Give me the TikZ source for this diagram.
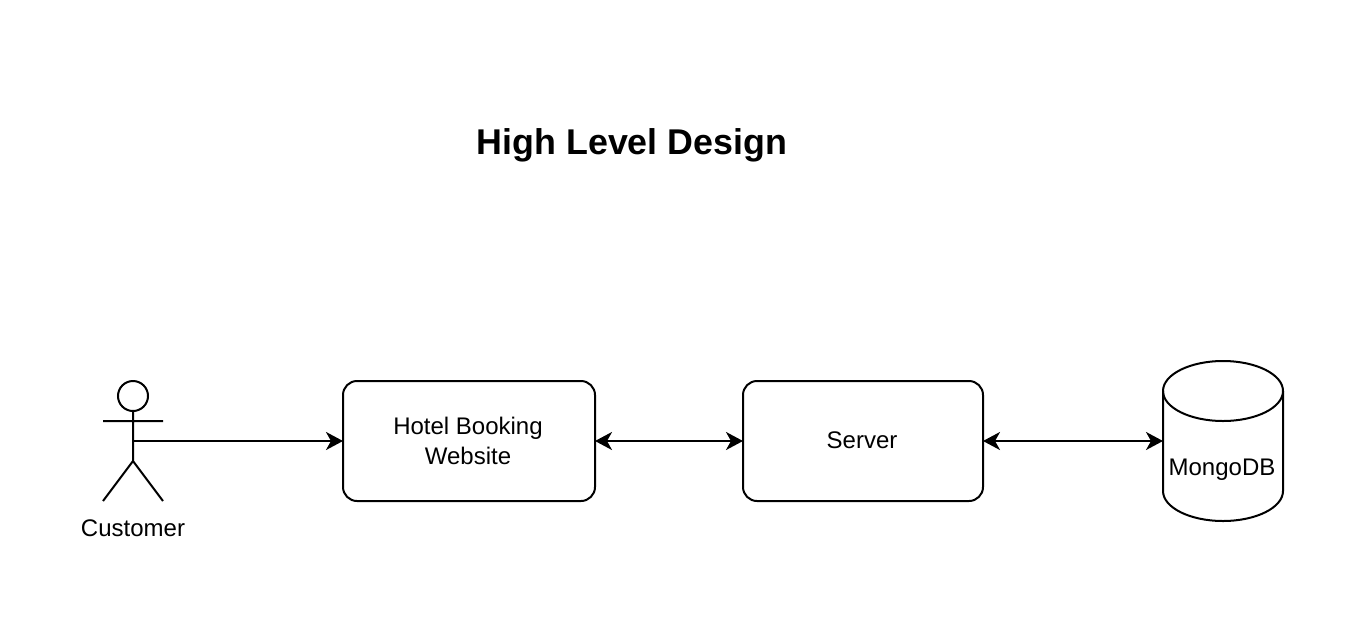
\documentclass[tikz,border=0pt]{standalone}
\usepackage{fontspec}
\setmainfont{Liberation Sans}
\usetikzlibrary{arrows.meta}
\tikzset{
  x=1pt,y=-1pt,
  line/.style={draw=black,line width=2pt},
  lbl/.style={font=\fontsize{24}{30}\selectfont,align=center,inner sep=0pt,text=black},
  conn/.style={line,-{Stealth[length=17pt,width=18pt,inset=5pt]}},
  biconn/.style={line,{Stealth[length=17pt,width=18pt,inset=5pt]}-{Stealth[length=17pt,width=18pt,inset=5pt]}},
}
\begin{document}
\begin{tikzpicture}
\useasboundingbox (0,0) rectangle (1364,624);
\node[font=\bfseries\fontsize{35.8}{40}\selectfont,inner sep=0pt] (title) at (632,145) {High Level Design};
% actor
\draw[line] (133,396) circle (15);
\draw[line] (133,411) -- (133,461) (103,421) -- (163,421) (103,501) -- (133,461) -- (163,501);
\coordinate (actor) at (133,441);
\node[lbl] (cust) at (133,528) {Customer};
% boxes
\node[line,rounded corners=14pt,minimum width=252pt,minimum height=120pt,inner sep=0pt,outer sep=0pt,lbl] (web) at (469,441) {\hspace*{-2pt}Hotel Booking\\\hspace*{-2pt}Website};
\node[line,rounded corners=14pt,minimum width=240pt,minimum height=120pt,inner sep=0pt,outer sep=0pt,lbl] (srv) at (863,441) {\raisebox{1pt}{\hspace*{-2pt}Server}};
% cylinder
\draw[line] (1163,391) .. controls (1163,374.4) and (1190,361) .. (1223,361) .. controls (1256,361) and (1283,374.4) .. (1283,391) -- (1283,491) .. controls (1283,507.6) and (1256,521) .. (1223,521) .. controls (1190,521) and (1163,507.6) .. (1163,491) -- cycle;
\draw[line] (1163,391) .. controls (1163,407.6) and (1190,421) .. (1223,421) .. controls (1256,421) and (1283,407.6) .. (1283,391);
\coordinate (db) at (1163,441);
\node[lbl] (mongo) at (1222,470) {MongoDB};
\draw[conn] (actor) -- (web.west);
\draw[biconn] (web.east) -- (srv.west);
\draw[biconn] (srv.east) -- (db);
\end{tikzpicture}
\end{document}
